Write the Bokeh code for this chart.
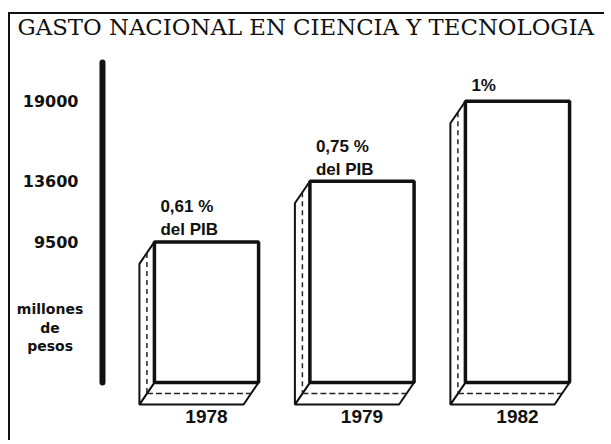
from bokeh.plotting import figure
from bokeh.models import Range1d, FixedTicker
from bokeh.core.properties import value
from bokeh.embed import file_html
from bokeh.resources import INLINE

# ---- data ----
title = "GASTO NACIONAL EN CIENCIA Y TECNOLOGIA"
years = ["1978", "1979", "1982"]
gasto = [9500, 13600, 19000]            # millones de pesos
pib_line1 = ["0,61 %", "0,75 %", ""]
pib_line2 = ["del PIB", "del PIB", "1%"]
y_ticks = [9500, 13600, 19000]
y_tick_labels = ["9500", "13600", "19000"]
unit_lines = ["millones", "de", "pesos"]

# ---- geometry (style constants) ----
pos = list(range(len(years)))
BAR_W = 0.67
DX = -0.0965      # depth offset of the boxes, x units
DY = -1486        # depth offset of the boxes, value units
X_START, X_END = -1.2605, 2.566
Y_START, Y_END = -1689, 24865
AXIS_X = -0.669   # where the thick value bar stands
AXIS_TOP = 21622
UNIT_X = -1.006
UNIT_Y = 3680
LINE2_OFFSET = [-12, -12, -16]

left = [x - BAR_W / 2 for x in pos]
right = [x + BAR_W / 2 for x in pos]

p = figure(width=596, height=428,
           x_range=Range1d(X_START, X_END), y_range=Range1d(Y_START, Y_END),
           output_backend="svg", toolbar_location=None,
           min_border_left=0, min_border_right=1,
           min_border_top=0, min_border_bottom=35)
p.styles = {"border-top": "2px solid #111", "border-left": "2px solid #111",
            "margin-top": "12px", "margin-left": "8px"}
p.background_fill_color = "white"
p.border_fill_color = "white"
p.outline_line_color = None
p.xgrid.visible = False
p.ygrid.visible = False
p.yaxis.visible = False

# title, lettered inside the frame under the top rule
p.text(x=[X_START], y=[Y_END], text=[title], x_offset=7, y_offset=12,
       text_align="left", text_baseline="alphabetic",
       text_font=value("DejaVu Serif"), text_font_size="22.8px",
       text_color="#111")

# value scale: thick bar, tick values and unit caption
p.segment(x0=[AXIS_X], y0=[0], x1=[AXIS_X], y1=[AXIS_TOP],
          line_color="#111", line_width=6, line_cap="round")
p.text(x=[AXIS_X] * len(y_ticks), y=y_ticks, text=y_tick_labels,
       x_offset=-24, text_align="right", text_baseline="middle",
       text_font=value("DejaVu Sans"), text_font_style="bold",
       text_font_size="16px", text_color="#111")
p.text(x=[UNIT_X] * 3, y=[UNIT_Y] * 3, text=unit_lines,
       y_offset=[-19, 0, 18], text_align="center", text_baseline="middle",
       text_font=value("DejaVu Sans"), text_font_style="bold",
       text_font_size="14px", text_color="#111")

# floor of each box
floor_xs = [[l, r, r + DX, l + DX] for l, r in zip(left, right)]
floor_ys = [[0, 0, DY, DY] for _ in pos]
p.patches(floor_xs, floor_ys, fill_color="white", line_color="#111", line_width=2)
# side face of each box
side_xs = [[l, l, l + DX, l + DX] for l in left]
side_ys = [[t, 0, DY, t + DY] for t in gasto]
p.patches(side_xs, side_ys, fill_color="white", line_color="#111", line_width=2)
# dashed hatch lines
p.segment(x0=[l + DX / 2 for l in left], y0=[t + DY / 2 for t in gasto],
          x1=[l + DX / 2 for l in left], y1=[DY / 2 for _ in pos],
          line_color="#222", line_width=1.5, line_dash="5 4")
p.segment(x0=[l + DX / 2 for l in left], y0=[DY / 2 for _ in pos],
          x1=[r + DX / 2 for r in right], y1=[DY / 2 for _ in pos],
          line_color="#222", line_width=1.5, line_dash="6 3")
# front faces
p.quad(left=left, right=right, bottom=0, top=gasto,
       fill_color="white", line_color="#111", line_width=3.5)

# percentage annotations
for lines, dy in ((pib_line1, -35), (pib_line2, LINE2_OFFSET)):
    p.text(x=left, y=gasto, text=lines, x_offset=6, y_offset=dy,
           text_font=value("Liberation Sans"), text_font_style="bold",
           text_font_size="17px", text_baseline="middle", text_align="left",
           text_color="#111")

# x axis: years
p.xaxis.ticker = FixedTicker(ticks=pos)
p.xaxis.major_label_overrides = {i: y for i, y in zip(pos, years)}
p.xaxis.axis_line_color = None
p.xaxis.major_tick_line_color = None
p.xaxis.minor_tick_line_color = None
p.xaxis.major_tick_out = 0
p.xaxis.major_tick_in = 0
p.xaxis.major_label_standoff = 2
p.xaxis.major_label_text_font = "Liberation Sans"
p.xaxis.major_label_text_font_style = "bold"
p.xaxis.major_label_text_font_size = "19px"
p.xaxis.major_label_text_color = "#111"

open("out.html", "w").write(file_html(p, INLINE))
